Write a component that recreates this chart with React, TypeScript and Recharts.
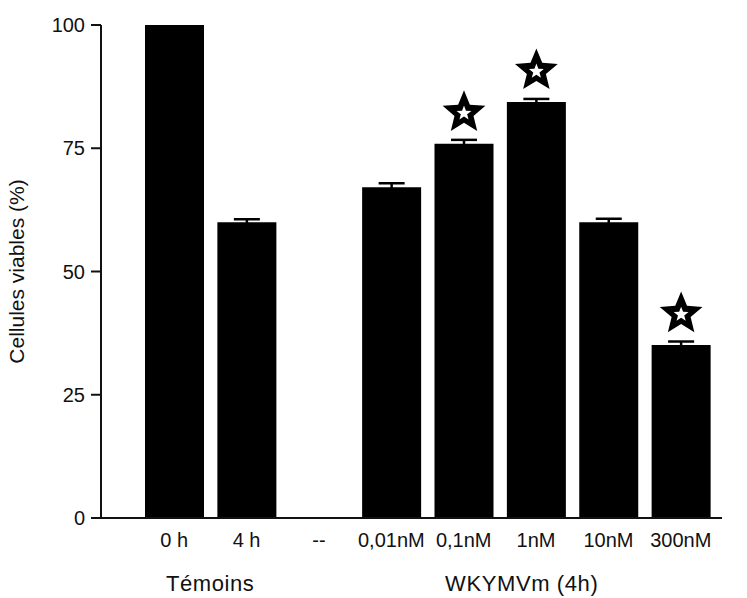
import { BarChart, Bar, XAxis, YAxis, ErrorBar, LabelList, Label } from 'recharts';

const categories = ['0 h', '4 h', '--', '0,01nM', '0,1nM', '1nM', '10nM', '300nM'];
const viability = [100, 60, null, 67.1, 75.9, 84.4, 60, 35.1];
const sem = [null, 0.6, null, 0.8, 0.8, 0.6, 0.7, 0.7];
const significant = [false, false, false, false, true, true, false, true];
const yTicks = [0, 25, 50, 75, 100];
const groupLabels = ['Témoins', 'WKYMVm (4h)'];
const groupAnchors = ['0 h', '0,1nM'];

const data = categories.map((name, i) => ({
    name,
    value: viability[i],
    sem: sem[i],
    mark: significant[i] ? 'star' : '',
}));

const FONT = "'Liberation Sans', Arial, sans-serif";
const INK = '#111';
// horizontal offset of each group caption from its anchor tick
const groupDx = [36, 58];

function starPoints(cx: number, cy: number, outer: number, inner: number) {
    const pts: string[] = [];
    for (let i = 0; i < 10; i++) {
        const r = i % 2 === 0 ? outer : inner;
        const a = -Math.PI / 2 + (i * Math.PI) / 5;
        pts.push(`${cx + r * Math.cos(a)},${cy + r * Math.sin(a)}`);
    }
    return pts.join(' ');
}

function StarMark(props: any) {
    const { x, y, width, value } = props;
    if (!value) return null;
    const cx = x + width / 2;
    const cy = y - 31;
    return (
        <g>
            <polygon points={starPoints(cx, cy, 22.5, 10)} fill="#000" />
            <polygon points={starPoints(cx, cy + 0.5, 7.8, 3.3)} fill="#fff" />
        </g>
    );
}

function CategoryTick(props: any) {
    const { x, y, payload } = props;
    const gi = groupAnchors.indexOf(payload.value);
    return (
        <g>
            <text x={x} y={y + 29} textAnchor="middle" fontFamily={FONT} fontSize={20} fill={INK}>
                {payload.value}
            </text>
            {gi >= 0 && (
                <text x={x + groupDx[gi]} y={y + 73} textAnchor="middle" fontFamily={FONT} fontSize={22} letterSpacing={0.6} fill={INK}>
                    {groupLabels[gi]}
                </text>
            )}
        </g>
    );
}

export default function App() {
    return (
        <div style={{ position: 'absolute', left: 0, top: 0, background: '#fff' }}>
            <BarChart width={747} height={598} data={data} margin={{ top: 25, right: 25, left: 0, bottom: 0 }}>
                <XAxis
                    dataKey="name"
                    height={80}
                    padding={{ left: 37, right: 5 }}
                    axisLine={{ stroke: INK, strokeWidth: 2 }}
                    tickLine={false}
                    tickSize={0}
                    tickMargin={0}
                    interval={0}
                    tick={<CategoryTick />}
                />
                <YAxis
                    width={101}
                    domain={[0, 100]}
                    ticks={yTicks}
                    axisLine={{ stroke: INK, strokeWidth: 2 }}
                    tickLine={{ stroke: INK, strokeWidth: 2 }}
                    tickSize={10}
                    tickMargin={6}
                    tick={{ fill: INK, fontSize: 20, fontFamily: FONT }}
                >
                    <Label
                        content={({ viewBox }: any) => {
                            const cy = viewBox.y + viewBox.height / 2;
                            return (
                                <text
                                    x={24}
                                    y={cy}
                                    transform={`rotate(-90 24 ${cy})`}
                                    textAnchor="middle"
                                    fontFamily={FONT}
                                    fontSize={21}
                                    fill={INK}
                                >
                                    Cellules viables (%)
                                </text>
                            );
                        }}
                    />
                </YAxis>
                <Bar dataKey="value" fill="#000" barSize={59} isAnimationActive={false}>
                    <ErrorBar dataKey="sem" width={13} stroke="#000" strokeWidth={2.5} direction="y" />
                    <LabelList dataKey="mark" content={<StarMark />} />
                </Bar>
            </BarChart>
        </div>
    );
}
